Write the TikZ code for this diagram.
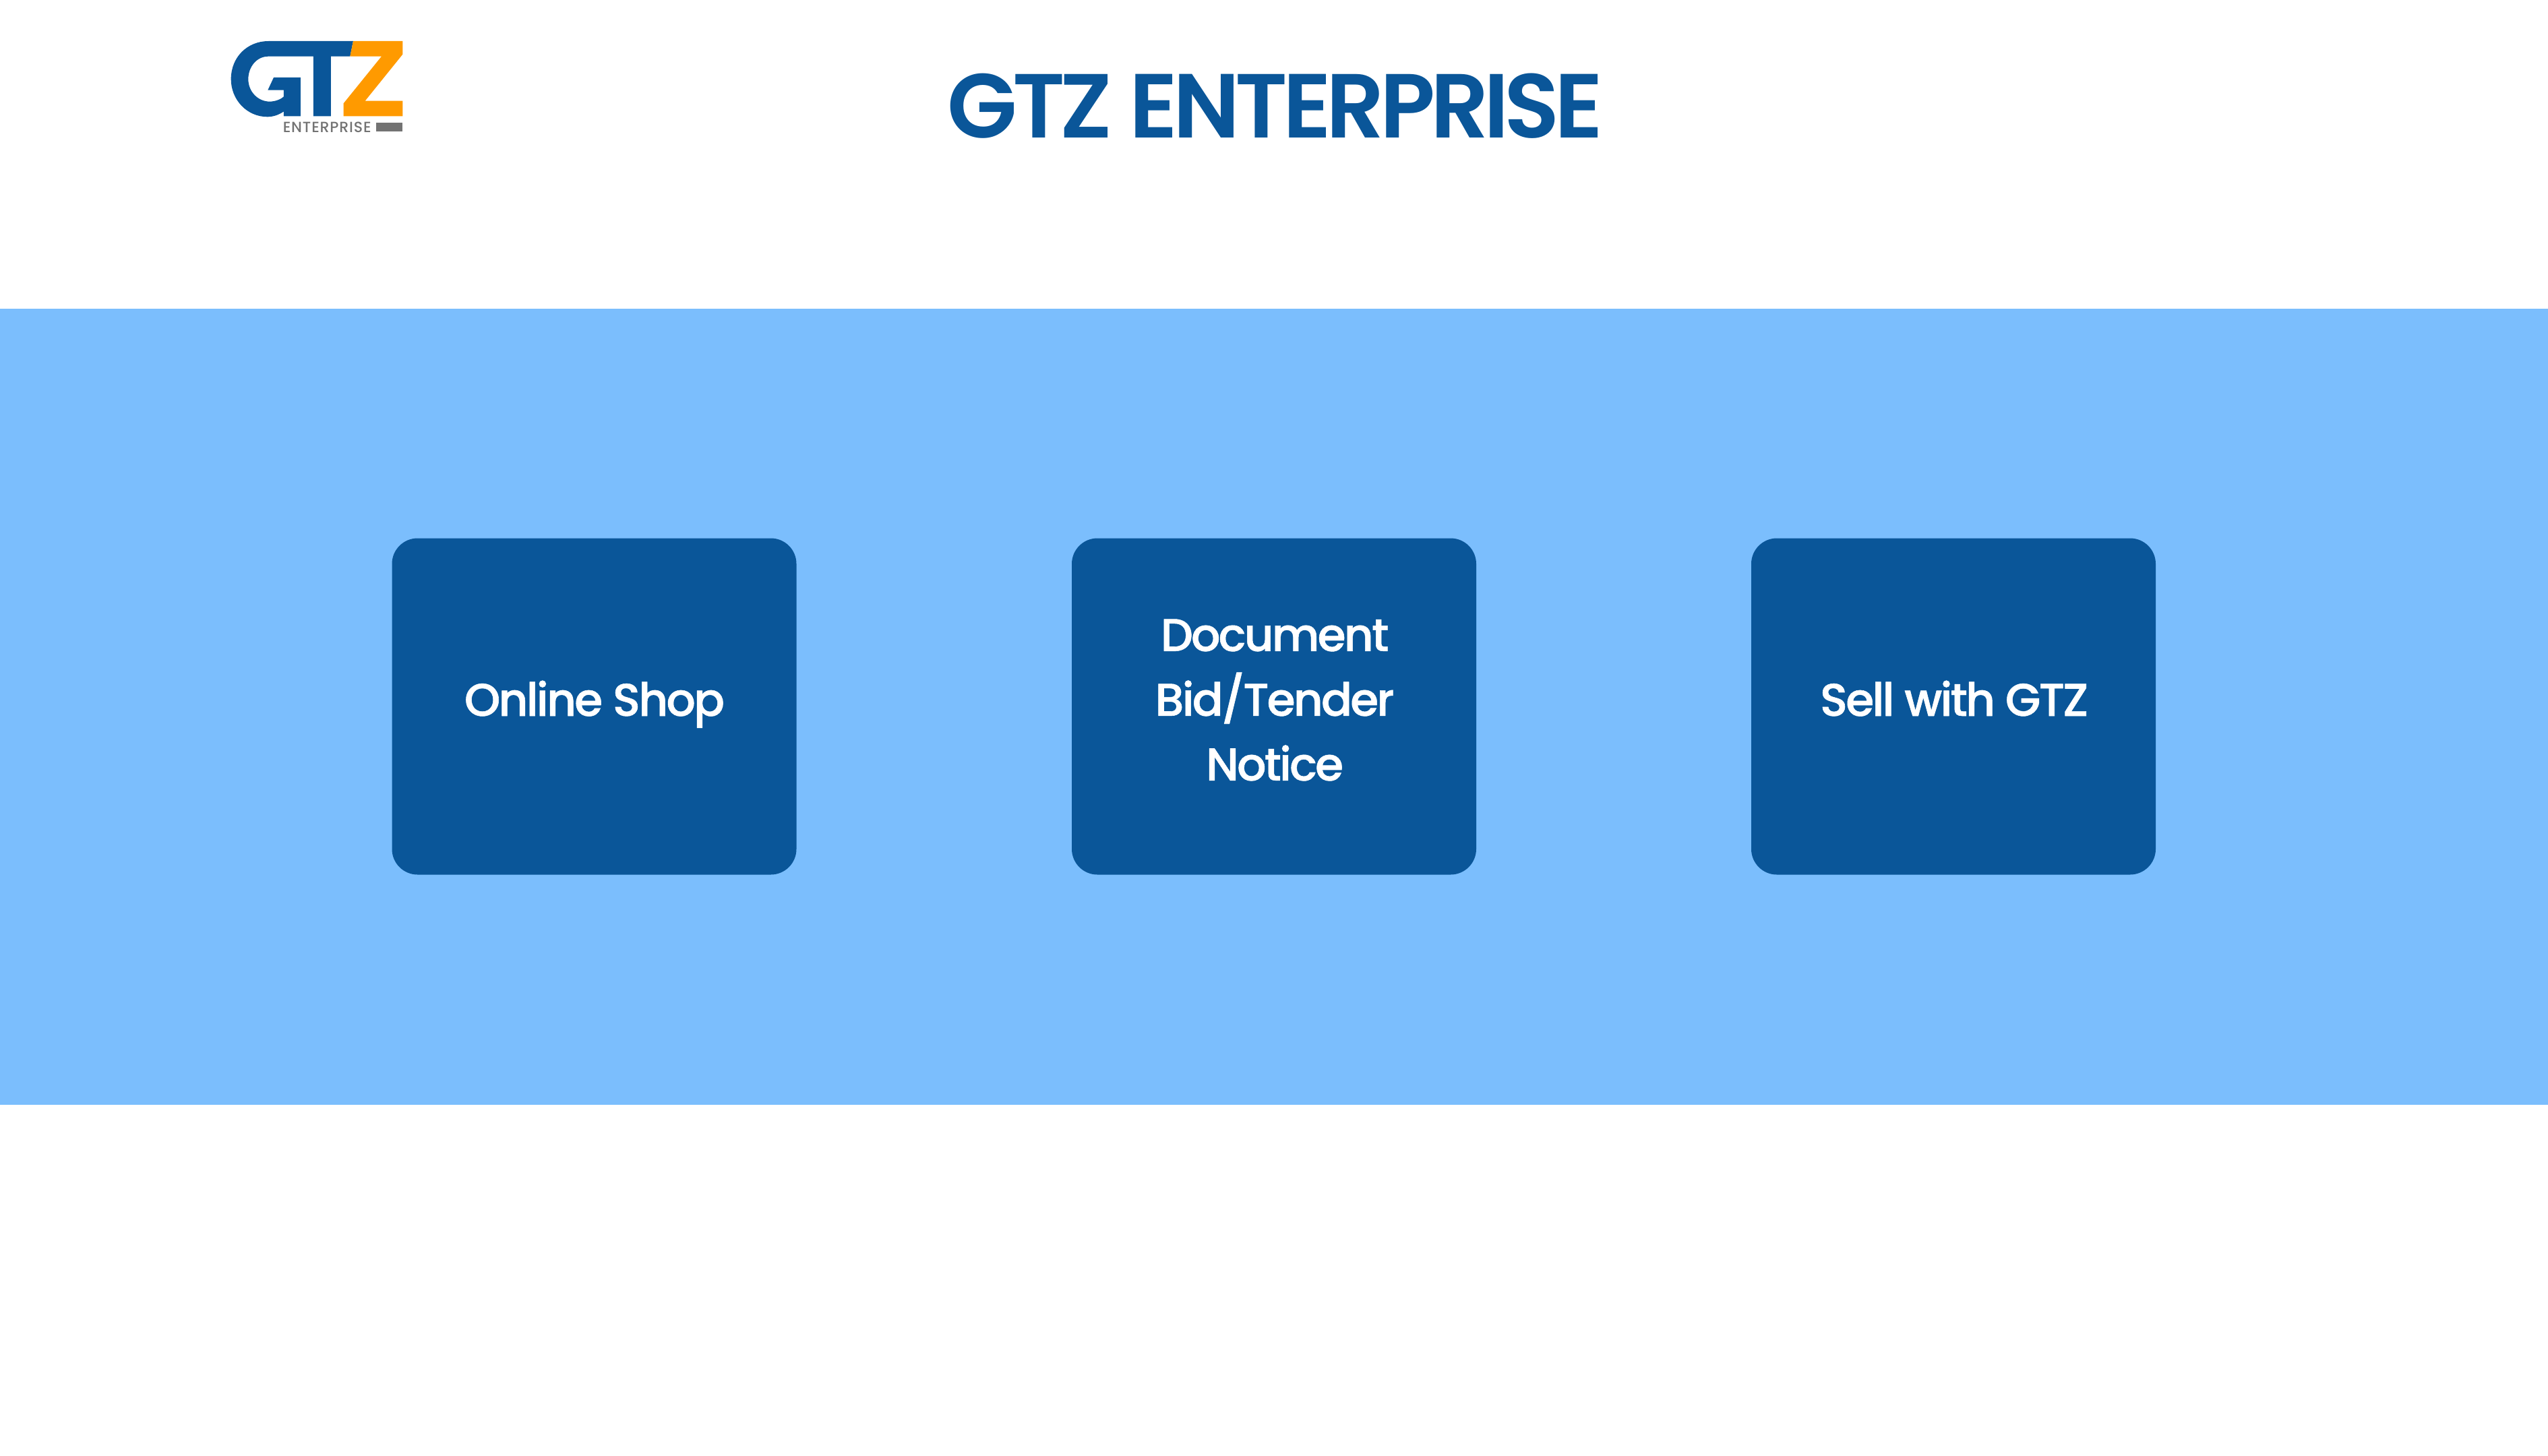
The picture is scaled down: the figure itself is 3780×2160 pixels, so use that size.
\documentclass[tikz,border=0pt]{standalone}
\usepackage{fontspec}
\setmainfont{Poppins}
\newfontfamily\pcard[LetterSpace=-4.2,FakeBold=0.8]{Poppins Medium}
\newfontfamily\ptitle[LetterSpace=-5.3]{Poppins SemiBold}
\newfontfamily\plogo[LetterSpace=4]{Poppins Medium}
\definecolor{gtzblue}{HTML}{0A5699}
\definecolor{band}{HTML}{7BBEFD}
\definecolor{gtzorange}{HTML}{FF9A00}
\definecolor{gtzgrey}{HTML}{737373}
\tikzset{
  card/.style={draw=none,fill=gtzblue,rounded corners=38pt,minimum width=600pt,minimum height=499pt,inner sep=0pt},
  cardtext/.style={text=white,align=center,font=\pcard\fontsize{68}{96}\selectfont,inner sep=0pt},
}
\begin{document}
\begin{tikzpicture}[x=1pt,y=-1pt]
\useasboundingbox (0,0) rectangle (3780,2160);
\fill[white] (0,0) rectangle (3780,2160);
\fill[band] (0,458) rectangle (3780,1639);
\node[card] (shop) at (881.5,1048) {};
\node[card] (doc) at (1890,1048) {};
\node[card] (sell) at (2898,1048) {};
\node[cardtext,anchor=base] (shopt) at (882,1062) {Online Shop};
\node[cardtext] (doct) at (1891,1038.5) {Document\\Bid/Tender\\Notice};
\node[cardtext,anchor=base] (sellt) at (2899,1062) {Sell with GTZ};
\node[text=gtzblue,inner sep=0pt,anchor=base,font=\ptitle\fontsize{135}{150}\selectfont] (title) at (1892,204) {GTZ ENTERPRISE};
\begin{scope}[shift={(320,40)},x=0.3333pt,y=-0.3333pt]
\fill[gtzblue] (612,63) -- (598,131) -- (513,131) -- (513,397) -- (435,397) -- (435,131) -- (235,131)
  .. controls (180,131) and (145,180) .. (145,232)
  .. controls (145,290) and (190,332) .. (240,332)
  .. controls (265,332) and (290,322) .. (303,310)
  -- (303,281) -- (232,281) -- (258,225) -- (378,225) -- (378,397) -- (303,397) -- (303,376)
  .. controls (280,392) and (255,400) .. (230,400)
  .. controls (140,400) and (68,325) .. (68,232)
  .. controls (68,135) and (140,63) .. (235,63) -- cycle;
\fill[gtzorange] (612,63) -- (832,63) -- (832,122) -- (665,329) -- (832,329) -- (832,397) -- (569,397) -- (569,340) -- (738,131) -- (598,131) -- cycle;
\fill[gtzgrey] (714,425) rectangle (832,466);
\node[text=gtzgrey,anchor=west,inner sep=0pt,font=\plogo\fontsize{22}{26}\selectfont] (sub) at (299,446) {ENTERPRISE};
\end{scope}
\end{tikzpicture}
\end{document}
